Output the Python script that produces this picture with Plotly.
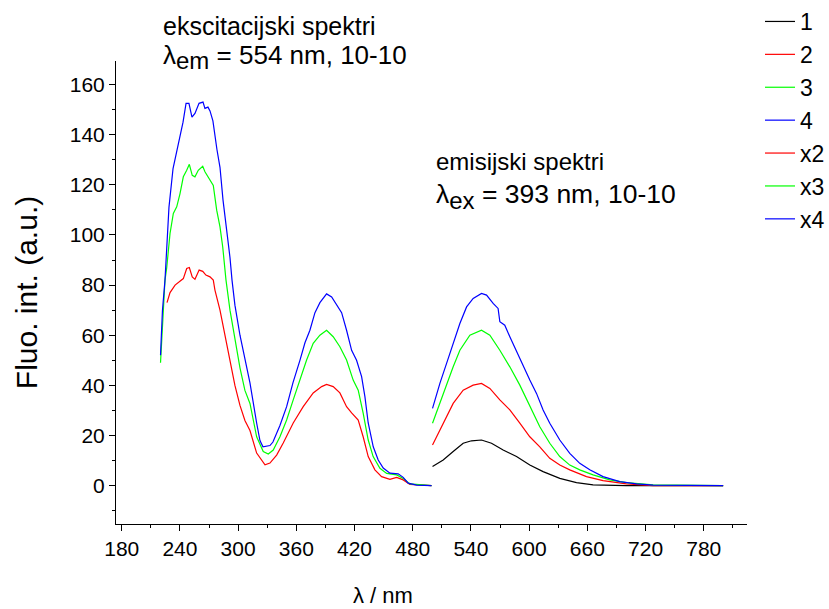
import plotly.graph_objects as go

# ---------------- data ----------------
# excitation spectra (lambda_em = 554 nm)
ex4_x = [220, 222, 224.6, 227.7, 228.7, 232.9, 237, 240, 243.2, 246.3, 249.3, 252.4, 255.5, 259.7,
         263.8, 265.8, 268.9, 271, 274, 278.2, 281.3, 284.4, 288.5, 291.6, 293.7, 296.7, 301.9, 307,
         312.2, 319.1, 322.5, 325.6, 332.8, 335.9, 343.1, 350, 356.5, 363.7, 368.9, 374, 379.2, 384.3,
         391.2, 396.4, 401.5, 406.7, 411.8, 417, 422.1, 427.3, 430.7, 434.1, 439.3, 444.4, 449.6,
         456.5, 465, 470.2, 475.3, 484, 499.4]
ex4_y = [52, 70, 82, 103, 111, 126.5, 134, 140.5, 145, 152.5, 152.5, 147, 148.5, 152.5,
         153, 150.5, 151, 149.5, 145.5, 134, 127, 114, 102, 91, 82, 72, 60, 50,
         41, 25, 18, 15.5, 16, 17.4, 24, 31.5, 41, 50, 57, 62, 69, 73,
         76.5, 75.3, 72, 69, 62, 54, 50, 43.5, 35.5, 25, 15.5, 10.2, 7,
         5, 4.7, 3.3, 1, 0.2, 0]

ex3_x = [220, 222, 224.6, 226.4, 229.8, 233.2, 236.7, 240.1, 243.5, 247, 249.7, 252.7, 255.5, 258.9,
         263.5, 265.8, 270.3, 274.4, 277.9, 281.3, 284.1, 287.5, 291.6, 296.7, 301.9, 307, 312.2,
         319.1, 325.9, 331.1, 336.2, 343.1, 350, 356.8, 363.7, 370.6, 377.4, 384.3, 391.2, 398,
         404.9, 411.8, 418.6, 423.8, 428.9, 434.1, 439.2, 446.2, 453.1, 463.4, 470.2, 477.1, 499.4]
ex3_y = [49, 65, 82, 87, 100.6, 108.6, 111.2, 116.5, 123.2, 125.8, 128.2, 123.8, 123.2, 125.8,
         127.4, 125.2, 122.5, 119.8, 109.9, 103.2, 95.3, 82, 70, 58, 47, 38, 32.8,
         19.5, 13.6, 12.6, 14.2, 19.5, 26.2, 34.2, 42.1, 50.1, 56.8, 60, 62, 59.4,
         55.4, 50.1, 42.1, 38.1, 28.9, 18.2, 11.6, 6.9, 4.9, 4.3, 2.9, 0.7, 0]

ex2_x = [226.7, 229.8, 235, 238, 243.5, 247, 249.7, 252.7, 255.5, 259.8, 263.5, 266.8, 271, 274.4,
         276.1, 281.3, 286.4, 291.6, 296.7, 301.9, 307, 312.2, 319.1, 327.7, 332.8, 339.7, 346.5,
         356.8, 367.1, 377.4, 386.1, 391.2, 398, 404.9, 411.8, 417, 423.8, 428.9, 434.1, 441,
         447.9, 456.5, 463.4, 470.2, 477.1, 499.4]
ex2_y = [73, 77, 80, 81, 82.6, 86.6, 87, 83.3, 82.3, 86, 85.5, 84, 83.3, 82,
         78, 70, 60, 50, 40, 32, 26, 22, 13, 8.3, 9, 12.2, 17,
         25, 31.5, 37, 39.5, 40.4, 39.5, 37, 31.5, 29, 26.2, 19.5, 11.6, 6.3,
         3.6, 2.5, 3.3, 2.3, 0.5, 0]

# emission spectra (lambda_ex = 393 nm)
em4_x = [500.4, 508, 514.9, 521.7, 528.6, 535.5, 542.3, 550.9, 556.1, 562.9, 568, 569.8, 574.9,
         580.1, 587, 593.8, 600.7, 607.6, 614.4, 621.3, 631.6, 641.9, 652.2, 662.5, 676.2, 693.4,
         710.7, 727.8, 762.2, 800]
em4_y = [30.8, 40.8, 48.8, 56.7, 64.7, 71.3, 74.7, 76.7, 76, 72.7, 70.7, 65.4, 64,
         59.4, 53.4, 47.4, 42.1, 36.8, 30.2, 24.9, 18.2, 12.9, 8.9, 6.3, 3.6, 1.6,
         0.7, 0.2, 0, 0]

em3_x = [500.4, 508, 514.9, 521.7, 528.6, 538.9, 550.9, 559.5, 569.8, 574.9, 580.1, 590.4, 600.7,
         611, 621.3, 631.6, 641.9, 652.2, 665.9, 683.1, 700.3, 727.8, 800]
em3_y = [24.9, 32.8, 40.8, 47.4, 54, 60, 62, 60, 54, 50.8, 47.4, 40.1, 31.5,
         23.5, 16.9, 11.6, 8.2, 6.3, 4.3, 2.3, 1.2, 0.3, 0]

em2_x = [500.4, 508, 514.9, 521.7, 532, 542.3, 550.9, 559.5, 569.8, 580.1, 590.4, 600.7, 611,
         621.3, 631.6, 641.9, 659.1, 676.2, 700.3, 727.8, 800]
em2_y = [16.2, 22.2, 27.5, 32.8, 38.1, 40.1, 40.8, 38.8, 34.2, 30.2, 24.9, 19.5, 15.5,
         10.9, 8.2, 6.3, 3.6, 2, 0.7, 0, 0]

em1_x = [500.4, 511.4, 521.7, 532, 540.6, 550.9, 561.2, 573.2, 587, 600.7, 614.4, 631.6, 648.8,
         665.9, 700, 800]
em1_y = [7.6, 10.2, 13.6, 16.9, 17.9, 18.2, 16.9, 14.2, 11.6, 8.2, 5.6, 2.9, 1.2,
         0.3, 0, 0]

series_names = ["1", "2", "3", "4", "x2", "x3", "x4"]
series_x = [em1_x, ex2_x, ex3_x, ex4_x, em2_x, em3_x, em4_x]
series_y = [em1_y, ex2_y, ex3_y, ex4_y, em2_y, em3_y, em4_y]
series_colors = ["#000000", "#FF0000", "#00FF00", "#0000FF", "#FF0000", "#00FF00", "#0000FF"]

x_ticks = [180, 240, 300, 360, 420, 480, 540, 600, 660, 720, 780]
y_ticks = [0, 20, 40, 60, 80, 100, 120, 140, 160]

FONT = "Liberation Sans, Arial, sans-serif"

fig = go.Figure()
for name, xs, ys, col in zip(series_names, series_x, series_y, series_colors):
    fig.add_trace(go.Scatter(x=xs, y=ys, mode="lines", name=name,
                             line=dict(color=col, width=1.2)))

# plot area in pixels
L, R, T, B = 116, 747, 61, 524
W, H = 829, 609
PW, PH = R - L, B - T

def px(xp):
    return (xp - L) / PW

def py(yp):
    return (B - yp) / PH

blk = lambda s: dict(family=FONT, size=s, color="black")
SUB = '<sub><span style="font-size:%dpx">%s</span></sub>'
annotations = [
    dict(text="ekscitacijski spektri", x=px(161), y=py(26), font=blk(25)),
    dict(text="λ" + SUB % (24, "em") + " = 554 nm, 10-10", x=px(161), y=py(57), font=blk(26)),
    dict(text="emisijski spektri", x=px(434), y=py(162), font=blk(24)),
    dict(text="λ" + SUB % (24, "ex") + " = 393 nm, 10-10", x=px(434), y=py(197), font=blk(26.5)),
    dict(text="λ / nm", x=px(383), y=py(595), xanchor="center", font=blk(22)),
]
for a in annotations:
    a.setdefault("xanchor", "left")
    a.update(xref="paper", yref="paper", yanchor="middle", showarrow=False)

fig.update_layout(
    width=W, height=H,
    margin=dict(l=L, r=W - R, t=T, b=H - B, autoexpand=False),
    paper_bgcolor="white", plot_bgcolor="white",
    font=dict(family=FONT, color="black"),
    annotations=annotations,
    showlegend=True,
    legend=dict(xref="container", yref="container", x=760 / W, y=1.0,
                xanchor="left", yanchor="top",
                font=blk(23), bgcolor="rgba(0,0,0,0)"),
)
fig.update_xaxes(range=[174.1, 824.6], tickvals=x_ticks, ticktext=[str(v) for v in x_ticks],
                 showline=True, linecolor="black", linewidth=1, mirror=False,
                 ticks="outside", ticklen=6, tickcolor="black", tickwidth=1,
                 minor=dict(dtick=30, tick0=180, ticks="outside", ticklen=3, tickcolor="black"),
                 showgrid=False, zeroline=False, tickfont=blk(21))
fig.update_yaxes(range=[-15.3, 169.4], tickvals=y_ticks, ticktext=[str(v) for v in y_ticks],
                 showline=True, linecolor="black", linewidth=1, mirror=False,
                 ticks="outside", ticklen=6, tickcolor="black", tickwidth=1,
                 minor=dict(dtick=10, tick0=0, ticks="outside", ticklen=3, tickcolor="black"),
                 showgrid=False, zeroline=False, tickfont=blk(21),
                 title=dict(text="Fluo. int. (a.u.)", font=blk(30), standoff=23))

fig.write_html("out.html", config={"displayModeBar": False},
               post_script="document.body.style.margin='0px';")
